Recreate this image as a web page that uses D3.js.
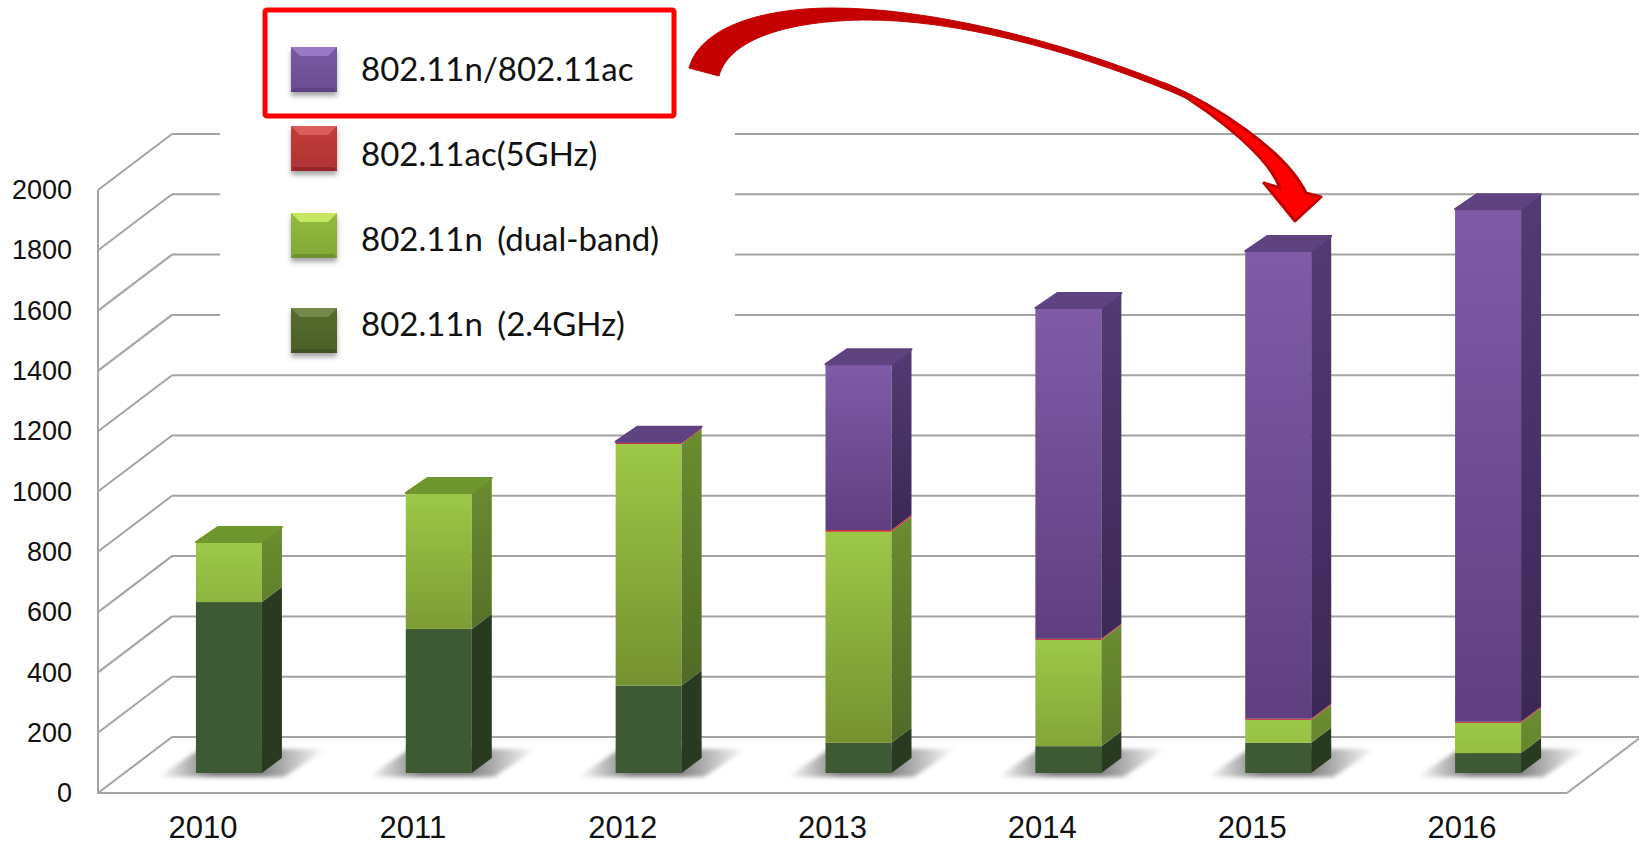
<!DOCTYPE html>
<html>
<head>
<meta charset="utf-8">
<script src="https://cdnjs.cloudflare.com/ajax/libs/d3/7.8.5/d3.min.js"></script>
<style>
html,body{margin:0;padding:0;background:#fff;overflow:hidden}
svg{display:block}
</style>
</head>
<body>
<div id="chart"></div>
<script>
// values
var years=['2010','2011','2012','2013','2014','2015','2016'];
var n24=[567,478,290,100,89,100,66];
var dualBand=[199,451,801,700,352,76,100];
var ac5=[0,0,4,6,4,4,4];
var nAc=[0,0,4,550,1097,1551,1700];
var yTicks=[0,200,400,600,800,1000,1200,1400,1600,1800,2000];
var legendLabels=['802.11n/802.11ac','802.11ac(5GHz)','802.11n (dual-band)','802.11n (2.4GHz)'];

var width=1639,height=845;
var keys=['n24','dualBand','ac5','nAc'];
var rows=years.map(function(d,i){
  return {year:d,n24:n24[i],dualBand:dualBand[i],ac5:ac5[i],nAc:nAc[i]};
});

var x=d3.scaleBand().domain(years).range([98,1567]).paddingInner(0.6855).paddingOuter(0.34275);
var xAxisScale=d3.scaleBand().domain(years).range([98,1567]);
var y=d3.scaleLinear().domain([0,2000]).range([793,190]);

// 3d offsets: back wall, bar plane from front of floor, bar depth
var wall={dx:74,dy:-56},plane={dx:26,dy:-20},depth={dx:20,dy:-15};

var svg=d3.select('#chart').append('svg').attr('width',width).attr('height',height);
var defs=svg.append('defs');

defs.append('filter').attr('id','blur').attr('x','-20%').attr('y','-50%').attr('width','140%').attr('height','200%')
  .append('feGaussianBlur').attr('stdDeviation',2);
var swatchShadow=defs.append('filter').attr('id','swatchShadow').attr('x','-20%').attr('y','-20%').attr('width','140%').attr('height','150%');
swatchShadow.append('feDropShadow').attr('dx',0).attr('dy',4).attr('stdDeviation',2.5).attr('flood-color','#000').attr('flood-opacity',0.35);

var sh=defs.append('linearGradient').attr('id','floorShadow');
sh.append('stop').attr('offset','0').attr('stop-color','#777').attr('stop-opacity',0);
sh.append('stop').attr('offset','0.32').attr('stop-color','#777').attr('stop-opacity',0.95);
sh.append('stop').attr('offset','0.6').attr('stop-color','#777').attr('stop-opacity',0.95);
sh.append('stop').attr('offset','1').attr('stop-color','#777').attr('stop-opacity',0);

function linGrad(id,c0,c1){
  var g=defs.append('linearGradient').attr('id',id).attr('x1',0).attr('y1',0).attr('x2',0).attr('y2',1);
  g.append('stop').attr('offset','0').attr('stop-color',c0);
  g.append('stop').attr('offset','1').attr('stop-color',c1);
  return 'url(#'+id+')';
}

var fills={
  n24:{front:function(){return '#3e5a35';},side:function(){return '#283b20';},top:'#4d6a3a'},
  dualBand:{
    front:function(h,id){return linGrad(id,'#9cc847',d3.interpolateRgb('#9cc847','#75912f')(Math.min(1,h/170)));},
    side:function(h,id){return linGrad(id,'#6b8c30',d3.interpolateRgb('#6b8c30','#4f6a28')(Math.min(1,h/170)));},
    top:'#70962f'},
  ac5:{front:function(){return '#c8353a';},side:function(){return '#c8353a';},top:'#5f4380'},
  nAc:{
    front:function(h,id){return linGrad(id,'#7f5ba8','#5f3f80');},
    side:function(h,id){return linGrad(id,'#543a74','#3c2855');},
    top:'#5f4380'}
};

// gridlines on back wall and side wall
var grid=svg.append('g').attr('stroke','#a3a3a3').attr('stroke-width',2).attr('fill','none');
grid.selectAll('line.back').data(yTicks).enter().append('line').attr('class','back')
  .attr('x1',98+wall.dx).attr('x2',width)
  .attr('y1',function(d){return y(d)+wall.dy;}).attr('y2',function(d){return y(d)+wall.dy;});
grid.selectAll('line.diag').data(yTicks).enter().append('line').attr('class','diag')
  .attr('x1',98).attr('x2',98+wall.dx)
  .attr('y1',function(d){return y(d);}).attr('y2',function(d){return y(d)+wall.dy;});
grid.append('line').attr('x1',1567).attr('x2',1567+wall.dx).attr('y1',y(0)).attr('y2',y(0)+wall.dy);
grid.append('line').attr('x1',98).attr('x2',98).attr('y1',y(2000)).attr('y2',y(0)+1);
grid.append('line').attr('x1',97).attr('x2',1567).attr('y1',y(0)).attr('y2',y(0));

// white box of the legend sits over the gridlines
svg.append('rect').attr('x',220).attr('y',0).attr('width',515).attr('height',335).attr('fill','#fff');

// floor shadows
var yBase=y(0)+plane.dy;
svg.append('g').selectAll('path').data(years).enter().append('path')
  .attr('d',function(d){
    var bx=x(d)+plane.dx,bw=x.bandwidth();
    return 'M'+(bx-38)+','+(yBase+4)+'L'+(bx+bw+22)+','+(yBase+4)+'L'+(bx+bw+64)+','+(yBase-24)+'L'+(bx+4)+','+(yBase-24)+'Z';
  })
  .attr('fill','url(#floorShadow)').attr('filter','url(#blur)');

// stacked bars
var stacked=d3.stack().keys(keys)(rows);
var bars=svg.append('g');
var topKey={};
rows.forEach(function(r){
  keys.forEach(function(k){ if(r[k]>0) topKey[r.year]=k; });
});
stacked.forEach(function(layer){
  var k=layer.key;
  layer.forEach(function(seg,i){
    if(seg[1]-seg[0]<=0) return;
    var yr=years[i];
    var bx=x(yr)+plane.dx,bw=x.bandwidth();
    var y0=y(seg[0])+plane.dy,y1=y(seg[1])+plane.dy,h=y0-y1;
    bars.append('rect').attr('x',bx).attr('y',y1).attr('width',bw).attr('height',h)
      .attr('fill',fills[k].front(h,'f'+k+i));
    bars.append('path')
      .attr('d','M'+(bx+bw)+','+y0+'L'+(bx+bw+depth.dx)+','+(y0+depth.dy)+'L'+(bx+bw+depth.dx)+','+(y1+depth.dy)+'L'+(bx+bw)+','+y1+'Z')
      .attr('fill',fills[k].side(h,'s'+k+i));
    if(topKey[yr]===k){
      bars.append('path')
        .attr('d','M'+bx+','+y1+'L'+(bx+depth.dx+2)+','+(y1+depth.dy)+'L'+(bx+bw+depth.dx)+','+(y1+depth.dy)+'L'+(bx+bw)+','+y1+'Z')
        .attr('fill',fills[k].top).attr('stroke',fills[k].top).attr('stroke-width',2).attr('stroke-linejoin','round');
    }
  });
});

// axes
var yAxis=d3.axisLeft(y).tickValues(yTicks).tickFormat(d3.format('d')).tickSize(0).tickPadding(0);
var yg=svg.append('g').attr('transform','translate(72,0)').call(yAxis);
yg.select('.domain').remove();
yg.selectAll('text').attr('font-family','"Liberation Sans",Arial,sans-serif').attr('font-size',27).attr('fill','#111');

var xAxis=d3.axisBottom(xAxisScale).tickSize(0).tickPadding(0);
var xg=svg.append('g').attr('transform','translate(0,838)').call(xAxis);
xg.select('.domain').remove();
xg.selectAll('text').attr('dy',0).attr('font-family','"Liberation Sans",Arial,sans-serif').attr('font-size',31).attr('fill','#111');

// legend
var swatchColors=[
  {base:'#7a58a3',up:'#9a79c8',down:'#5f4382',side:'#6b4c93'},
  {base:'#c43c3c',up:'#dc5c5c',down:'#97282a',side:'#ae3333'},
  {base:'#93bb3e',up:'#c6e860',down:'#6f9030',side:'#83a836'},
  {base:'#566d2c',up:'#75894d',down:'#3f5220',side:'#4c6127'}
];
var legendTops=[47,126,213,308];
var textBase=[81,166,251,336];
var sw=46,bev=9;
var legend=svg.append('g');
legendLabels.forEach(function(label,i){
  var c=swatchColors[i],t=legendTops[i];
  var g=legend.append('g').attr('filter','url(#swatchShadow)');
  g.append('rect').attr('x',291).attr('y',t).attr('width',sw).attr('height',sw-1)
    .attr('fill',linGrad('sw'+i,c.base,c.side));
  g.append('path').attr('d','M291,'+t+'h'+sw+'l-'+bev+','+bev+'h-'+(sw-2*bev)+'Z').attr('fill',c.up);
  g.append('path').attr('d','M291,'+(t+sw-1)+'h'+sw+'l-3,-4h-'+(sw-6)+'Z').attr('fill',c.down);
  legend.append('text').attr('x',361).attr('y',textBase[i]).text(label)
    .attr('font-family','Lato,"Open Sans",sans-serif').attr('font-size',33).attr('word-spacing',6).attr('fill','#111');
});
svg.append('rect').attr('x',265).attr('y',10).attr('width',409).attr('height',106).attr('rx',2)
  .attr('fill','none').attr('stroke','#ff0000').attr('stroke-width',5);

// curved arrow from the legend to the 2015 bar
svg.append('path')
  .attr('d','M689,68C700,28 760,8 833,8C930,8 1060,40 1172,86C1195,96 1215,108 1235,122C1215,111 1195,102 1172,92C1060,46 950,20 868,20C800,20 730,35 719,76Z')
  .attr('fill','#c40000').attr('stroke','#c40000').attr('stroke-width',1).attr('stroke-linejoin','round');
svg.append('path')
  .attr('d','M1165,84C1215,105 1285,150 1306,193L1321,197L1295,221L1264,183L1280,188C1270,160 1225,120 1165,84Z')
  .attr('fill','#ff0000').attr('stroke','#c40000').attr('stroke-width',3).attr('stroke-linejoin','round');
</script>
</body>
</html>
